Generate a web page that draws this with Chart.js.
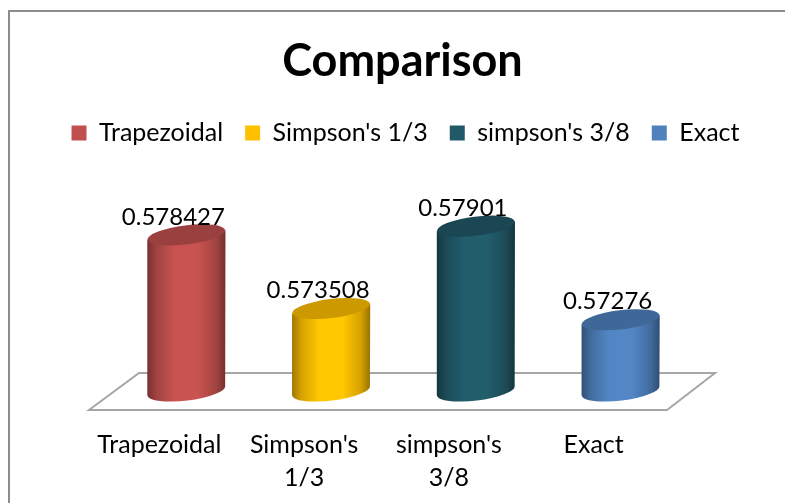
<!DOCTYPE html>
<html>
<head>
<meta charset="utf-8">
<title>Comparison</title>
<script src="https://cdn.jsdelivr.net/npm/chart.js@4/dist/chart.umd.min.js"></script>
<style>
    html, body { margin: 0; padding: 0; background: #fff; overflow: hidden; }
    #wrap { position: relative; width: 785px; height: 503px; }
</style>
</head>
<body>
<div id="wrap"><canvas id="chart" width="785" height="503"></canvas></div>
<script>
const seriesNames = ['Trapezoidal', "Simpson's 1/3", "simpson's 3/8", 'Exact'];
const categories = [['Trapezoidal'], ["Simpson's", '1/3'], ["simpson's", '3/8'], ['Exact']];
const values = [0.578427, 0.573508, 0.57901, 0.57276];
const colors = ['#c0504d', '#ffc000', '#215968', '#4f81bd'];
const yMin = 0.568;
const yMax = 0.585;

const FONT = 'Lato, Carlito, sans-serif';

function shade(hex, f) {
    const n = parseInt(hex.slice(1), 16);
    const c = [n >> 16, (n >> 8) & 255, n & 255].map(v => Math.min(255, Math.round(v * f)));
    return `rgb(${c[0]},${c[1]},${c[2]})`;
}

// fake 3d: chart area is the front edge of the floor, bars stand further back
const floorDepth = -37;
const barDepth = { x: 27, y: -19 };
const TILT = -7 * Math.PI / 180;

function drawCylinder(ctx, el, color, base) {
    const cx = el.x + barDepth.x;
    const top = el.y + barDepth.y;
    const bottom = base + barDepth.y;
    const rx = el.width / 2;
    const ry = 9.5;
    const dy = rx * Math.sin(TILT);

    const grad = ctx.createLinearGradient(cx - rx, 0, cx + rx, 0);
    grad.addColorStop(0, shade(color, 0.62));
    grad.addColorStop(0.12, shade(color, 0.84));
    grad.addColorStop(0.35, shade(color, 1.04));
    grad.addColorStop(0.65, shade(color, 1.04));
    grad.addColorStop(0.88, shade(color, 0.84));
    grad.addColorStop(1, shade(color, 0.6));

    ctx.save();
    ctx.beginPath();
    ctx.moveTo(cx - rx, top - dy);
    ctx.lineTo(cx - rx, bottom - dy);
    ctx.ellipse(cx, bottom, rx, ry, TILT, Math.PI, 0, true);
    ctx.lineTo(cx + rx, top + dy);
    ctx.closePath();
    ctx.fillStyle = grad;
    ctx.fill();

    ctx.beginPath();
    ctx.ellipse(cx, top, rx, ry, TILT, 0, Math.PI * 2);
    ctx.fillStyle = shade(color, 0.8);
    ctx.fill();
    ctx.restore();
}

const cylinderPlugin = {
    id: 'cylinders',
    afterLayout(chart) {
        // legend sits a little right of the title in the original
        chart.legend.left += 3;
        chart.legend.right += 3;
    },
    beforeDraw(chart) {
        const ctx = chart.ctx;
        ctx.save();
        ctx.strokeStyle = '#8c8c8c';
        ctx.lineWidth = 2;
        ctx.strokeRect(9, 11, 900, 900);
        ctx.restore();
    },
    beforeDatasetsDraw(chart) {
        const { ctx, chartArea: a } = chart;
        ctx.save();
        ctx.beginPath();
        ctx.moveTo(a.left + 2, a.bottom);
        ctx.lineTo(a.left + 52, a.bottom + floorDepth);
        ctx.lineTo(a.right + 49, a.bottom + floorDepth);
        ctx.lineTo(a.right + 1, a.bottom);
        ctx.closePath();
        ctx.fillStyle = '#fff';
        ctx.fill();
        ctx.strokeStyle = '#a6a6a6';
        ctx.lineWidth = 2;
        ctx.stroke();
        ctx.restore();
    },
    beforeDatasetDraw(chart, args) {
        const ds = chart.data.datasets[args.index];
        chart.getDatasetMeta(args.index).data.forEach((el, j) => {
            if (ds.data[j] !== null) drawCylinder(chart.ctx, el, colors[args.index], chart.chartArea.bottom);
        });
        return false;
    },
    afterDatasetsDraw(chart) {
        const ctx = chart.ctx;
        ctx.save();
        ctx.font = `24px ${FONT}`;
        ctx.fillStyle = '#000';
        ctx.textAlign = 'center';
        ctx.textBaseline = 'middle';
        chart.data.datasets.forEach((ds, i) => {
            chart.getDatasetMeta(i).data.forEach((el, j) => {
                if (ds.data[j] !== null) ctx.fillText(String(ds.data[j]), el.x + 14, el.y + barDepth.y - 18);
            });
        });
        ctx.restore();
    }
};

const hiddenAxis = (position, width) => ({
    position,
    display: true,
    min: yMin,
    max: yMax,
    ticks: { display: false },
    grid: { display: false },
    border: { display: false },
    afterFit(scale) { scale.width = width; }
});

new Chart(document.getElementById('chart'), {
    type: 'bar',
    plugins: [cylinderPlugin],
    data: {
        labels: categories,
        datasets: seriesNames.map((name, i) => ({
            label: name,
            data: values.map((v, j) => (j === i ? v : null)),
            backgroundColor: colors[i],
            yAxisID: 'y'
        }))
    },
    options: {
        responsive: false,
        animation: false,
        layout: { padding: { left: 20 } },
        barPercentage: 0.54,
        categoryPercentage: 1,
        plugins: {
            tooltip: { enabled: false },
            title: {
                display: true,
                text: 'Comparison',
                color: '#000',
                font: { family: FONT, size: 45, weight: 'bold', lineHeight: 1.2 },
                padding: { top: 34, bottom: 10.5 }
            },
            legend: {
                display: true,
                position: 'top',
                labels: {
                    color: '#000',
                    font: { family: FONT, size: 25 },
                    boxWidth: 15,
                    boxHeight: 15,
                    padding: 22
                }
            }
        },
        scales: {
            x: {
                stacked: true,
                grid: { display: false, drawTicks: false },
                border: { display: false },
                ticks: {
                    color: '#000',
                    font: { family: FONT, size: 25, lineHeight: 1.3 },
                    padding: 19,
                    maxRotation: 0,
                    autoSkip: false
                },
                afterFit(scale) { scale.height = 93; }
            },
            y: hiddenAxis('left', 67),
            yRight: hiddenAxis('right', 119)
        }
    }
});
</script>
</body>
</html>
